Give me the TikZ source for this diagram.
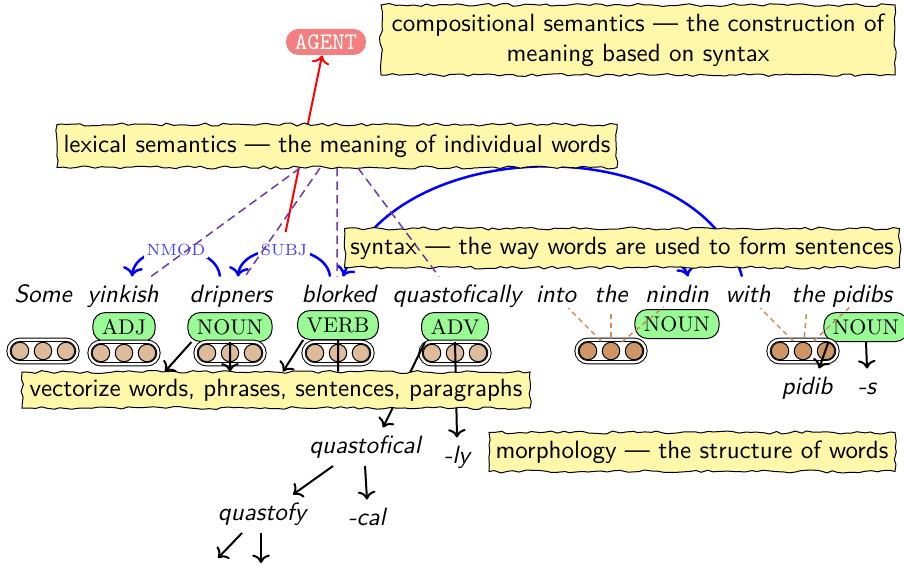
\documentclass[tikz,border=0pt]{standalone}
\usetikzlibrary{arrows.meta, positioning, calc, decorations.pathmorphing}

\definecolor{paper}{RGB}{255,247,170}
\definecolor{tagfill}{RGB}{153,250,150}
\definecolor{agentfill}{RGB}{242,128,128}
\definecolor{veclight}{RGB}{222,188,155}
\definecolor{vecdark}{RGB}{205,150,100}
\definecolor{lexviolet}{RGB}{110,60,160}
\definecolor{phrasebrown}{RGB}{200,140,85}

\tikzset{
  tornbox/.style={draw, thin, fill=paper, decorate,
    decoration={random steps, segment length=2.5pt, amplitude=0.6pt},
    font=\sffamily, inner sep=2pt, align=center},
  wordlbl/.style={anchor=base, font=\sffamily\itshape, text height=7pt,
    text depth=2pt, inner ysep=3pt, inner xsep=1pt},
  postag/.style={draw, thin, fill=tagfill, rounded corners=5pt,
    minimum height=11.6pt, inner xsep=3.6pt, inner ysep=1pt,
    font=\rmfamily\fontsize{8.5}{10}\selectfont},
  agenttag/.style={fill=agentfill, rounded corners=5pt, text=white,
    minimum width=32pt, minimum height=10.4pt, inner sep=1pt,
    font=\ttfamily\fontsize{9.5}{11}\selectfont},
  vecgrp/.style={draw, line width=0.4pt, double, double distance=0.9pt,
    rounded corners=4.5pt, minimum width=27.6pt, minimum height=9pt, inner sep=0pt},
  vecdot/.style={circle, draw, thin, minimum size=7pt, inner sep=0pt},
  deparc/.style={blue, line width=1pt},
  deplbl/.style={fill=white, inner sep=1pt, text=blue!75,
    font=\rmfamily\fontsize{6.5}{8}\selectfont},
  lexline/.style={lexviolet, semithick, dash pattern=on 3.4pt off 2pt},
  phraseline/.style={phrasebrown, semithick, dash pattern=on 2pt off 1.6pt,
    shorten <=5.6pt, shorten >=7pt},
  morpharrow/.style={->, thick},
  agentline/.style={->, red, thick, shorten <=3.2pt},
}

\begin{document}
\begin{tikzpicture}[x=0.4pt, y=-0.4pt]
    \pgfmathsetseed{7}
    \useasboundingbox (0,0) rectangle (904,565);

    % === WORDS OF THE SENTENCE ===
    \foreach \x/\w/\n in {43/Some/some, 123/yinkish/yinkish, 231/dripners/dripners,
        339/blorked/blorked, 457/quastofically/quastofically, 556/into/into,
        611/the/theA, 677/nindin/nindin, 748/with/with, 808/the/theB, 862/pidibs/pidibs}
        \node[wordlbl] (\n) at (\x,302) {\w};

    % === DEPENDENCY ARCS (partly under the boxes) ===
    \draw[deparc, ->] ([xshift=-4.4pt]dripners.north) .. controls +(-4,-36) and +(4,-36) ..
        ([xshift=3.6pt]yinkish.north) node[midway, deplbl] (nmod) {NMOD};
    \draw[deparc, ->] ([xshift=-3.6pt]blorked.north) .. controls +(-4,-36) and +(4,-36) ..
        ([xshift=2.8pt]dripners.north) node[midway, deplbl] (subj) {SUBJ};
    \draw[deparc, ->] ([xshift=-2.4pt]with.north) .. controls (700,130) and (400,130) ..
        ([xshift=1.6pt]blorked.north);
    \draw[deparc, ->] ([yshift=4.8pt]into.north) .. controls +(20,-30) and +(-6,-25) ..
        ([xshift=4.4pt]nindin.north);

    % === AGENT ===
    \node[agenttag] (agent) at (326,42) {AGENT};
    \draw[agentline] (subj.north) -- ([xshift=-1.6pt]agent.south);

    % === TORN BOXES, TOP ===
    \node[tornbox, minimum width=224pt, minimum height=17.2pt] (lexsem) at (337,146)
        {lexical semantics \textemdash{} the meaning of individual words};
    \node[tornbox, minimum width=205.6pt, minimum height=28pt] (compsem) at (638,40)
        {compositional semantics \textemdash{} the construction of\\ meaning based on syntax};
    \node[tornbox, minimum width=222pt, minimum height=15.6pt] (syntax) at (622,248)
        {syntax \textemdash{} the way words are used to form sentences};

    % lexical links
    \draw[lexline] ([xshift=-14.8pt]lexsem.south) -- ([xshift=11.2pt]yinkish.north);
    \draw[lexline] ([xshift=-6.8pt]lexsem.south) -- ([xshift=5.6pt]dripners.north);
    \draw[lexline] (lexsem.south) -- ([xshift=-0.8pt]blorked.north);
    \draw[lexline] ([xshift=8.4pt]lexsem.south) -- ([xshift=-7.2pt]quastofically.north);

    % === POS TAGS ===
    \foreach \n/\x/\y/\t in {tadj/124/327/ADJ, tnoun/230/327/NOUN, tverb/338/325/VERB,
        tadv/455/327/ADV, tnounB/677/324/NOUN, tnounC/866/327/NOUN}
        \node[postag] (\n) at (\x,\y) {\t};

    % === WORD VECTORS ===
    \foreach \g/\x/\y/\c in {ga/43/351/veclight, gb/124/353/veclight, gc/230/353/veclight,
        gd/338/353/veclight, ge/455/353/veclight, gf/611/351/vecdark, gg/803/351/vecdark} {
        \node[vecgrp] (\g) at (\x,\y) {};
        \foreach \k/\s in {a/-23, b/0, c/23}
            \node[vecdot, fill=\c] (\g\k) at (\x+\s,\y) {};
    }

    % phrase vectors
    \foreach \w in {into, theA, nindin}
        \draw[phraseline] (gfb.center) -- (\w.center);
    \foreach \w in {with, theB, pidibs}
        \draw[phraseline] (ggb.center) -- (\w.center);

    % === MORPHOLOGY ===
    \node[wordlbl] (qcal) at (365,453) {quastofical};
    \node[wordlbl] (ly) at (457,463) {-ly};
    \node[wordlbl] (qfy) at (262,520) {quastofy};
    \node[wordlbl] (cal) at (367,525) {-cal};
    \node[wordlbl] (pidib) at (807,394) {pidib};
    \node[wordlbl] (plural) at (867,394) {-s};
    \coordinate (qfyL) at (218,558);
    \coordinate (qfyR) at (261,563);

    \draw[morpharrow] ([xshift=1.6pt]tadv.south west) -- ([xshift=7.2pt]qcal.north);
    \draw[morpharrow] (tadv.south) -- (ly.north);

    % === VECTORIZE BOX ===
    \node[tornbox, minimum width=203.2pt, minimum height=14.4pt] (vecsem) at (276,390)
        {vectorize words, phrases, sentences, paragraphs};

    \draw[morpharrow] ([xshift=1.6pt]tnoun.south west) -- ([xshift=-44.4pt]vecsem.north);
    \draw[morpharrow] (tnoun.south) -- ([xshift=-18.4pt]vecsem.north);
    \draw[morpharrow] ([xshift=2.4pt]tverb.south west) -- ([xshift=2.8pt]vecsem.north);
    \draw[thick] (tverb.south) -- ([xshift=24.8pt]vecsem.north);

    \draw[morpharrow] ([xshift=-12.8pt]qcal.south) -- ([xshift=12.4pt]qfy.north);
    \draw[morpharrow] (qcal.south) -- (cal.north);
    \draw[morpharrow] ([xshift=-8pt]qfy.south) -- (qfyL);
    \draw[morpharrow] ([xshift=-0.4pt]qfy.south) -- (qfyR);
    \draw[morpharrow] ([xshift=2pt]tnounC.south west) -- ([xshift=4.8pt]pidib.north);
    \draw[morpharrow] (tnounC.south) -- (plural.north);

    \node[tornbox, minimum width=162.4pt, minimum height=15.6pt] (morph) at (692,452)
        {morphology \textemdash{} the structure of words};

\end{tikzpicture}
\end{document}
